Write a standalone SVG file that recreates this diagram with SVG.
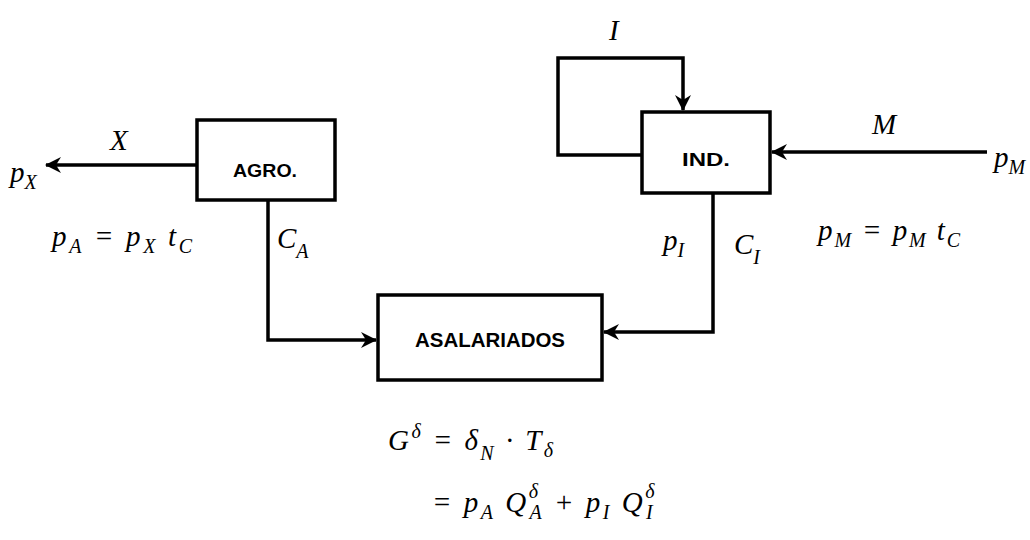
<svg xmlns="http://www.w3.org/2000/svg" width="1030" height="540" viewBox="0 0 1030 540">
<style>
.box{fill:#fff;stroke:#000;stroke-width:3.5}
.ln{fill:none;stroke:#000;stroke-width:3.5}
.lbl{font-family:"Liberation Sans",Arial,sans-serif;font-weight:bold;font-size:19px;fill:#000}
.m{font-family:"Liberation Serif","Times New Roman",serif;font-style:italic;font-size:29px;fill:#000}
.s{font-size:20px}
</style>
<defs>
<marker id="ah" markerWidth="18" markerHeight="16" refX="15" refY="8" orient="auto" markerUnits="userSpaceOnUse">
<path d="M0,0 L16,8 L0,16 L5,8 Z" fill="#000"/>
</marker>
</defs>
<rect width="1030" height="540" fill="#fff"/>
<g id="connectors">
<line class="ln" x1="197" y1="165" x2="46" y2="165" marker-end="url(#ah)"/>
<polyline class="ln" points="268,200 268,340 376,340" marker-end="url(#ah)"/>
<polyline class="ln" points="713,193 713,332 604,332" marker-end="url(#ah)"/>
<polyline class="ln" points="642,155 558,155 558,58 683,58 683,110" marker-end="url(#ah)"/>
<line class="ln" x1="987" y1="152" x2="772" y2="152" marker-end="url(#ah)"/>
</g>
<g id="agro">
<rect class="box" x="197" y="120" width="138" height="80"/>
<text class="lbl" x="233" y="177" textLength="64" lengthAdjust="spacingAndGlyphs">AGRO.</text>
</g>
<g id="ind">
<rect class="box" x="642" y="112" width="128" height="81"/>
<text class="lbl" x="682" y="166" textLength="48" lengthAdjust="spacingAndGlyphs">IND.</text>
</g>
<g id="asalariados">
<rect class="box" x="378" y="295" width="224" height="85"/>
<text class="lbl" x="415" y="347" style="font-size:20px" textLength="150" lengthAdjust="spacingAndGlyphs">ASALARIADOS</text>
</g>
<g id="labels">
<text class="m" x="110" y="150">X</text>
<text class="m" x="10" y="182">p<tspan class="s" dy="7">X</tspan></text>
<text class="m" x="52" y="246" textLength="140">p<tspan class="s" dy="7">A</tspan><tspan dy="-7"> = p</tspan><tspan class="s" dy="7">X</tspan><tspan dy="-7"> t</tspan><tspan class="s" dy="7">C</tspan></text>
<text class="m" x="277" y="248">C<tspan class="s" dy="10">A</tspan></text>
<text class="m" x="609" y="40">I</text>
<text class="m" x="872" y="134">M</text>
<text class="m" x="994" y="167">p<tspan class="s" dy="7">M</tspan></text>
<text class="m" x="818" y="240" textLength="142">p<tspan class="s" dy="7">M</tspan><tspan dy="-7"> = p</tspan><tspan class="s" dy="7">M</tspan><tspan dy="-7"> t</tspan><tspan class="s" dy="7">C</tspan></text>
<text class="m" x="663" y="250">p<tspan class="s" dy="7">I</tspan></text>
<text class="m" x="734" y="254">C<tspan class="s" dy="10">I</tspan></text>
<text class="m" x="388" y="450" textLength="165">G<tspan class="s" dy="-12">δ</tspan><tspan dy="12">  = δ</tspan><tspan class="s" dy="10">N</tspan><tspan dy="-10">  · T</tspan><tspan class="s" dy="7">δ</tspan></text>
<text class="m" x="432" y="512" textLength="225">= p<tspan class="s" dy="7">A</tspan><tspan dy="-7">  Q</tspan><tspan class="s" dy="-14">δ</tspan><tspan class="s" dx="-11" dy="21">A</tspan><tspan dy="-7">  + p</tspan><tspan class="s" dy="7">I</tspan><tspan dy="-7">  Q</tspan><tspan class="s" dy="-14">δ</tspan><tspan class="s" dx="-11" dy="21">I</tspan></text>
</g>
</svg>
